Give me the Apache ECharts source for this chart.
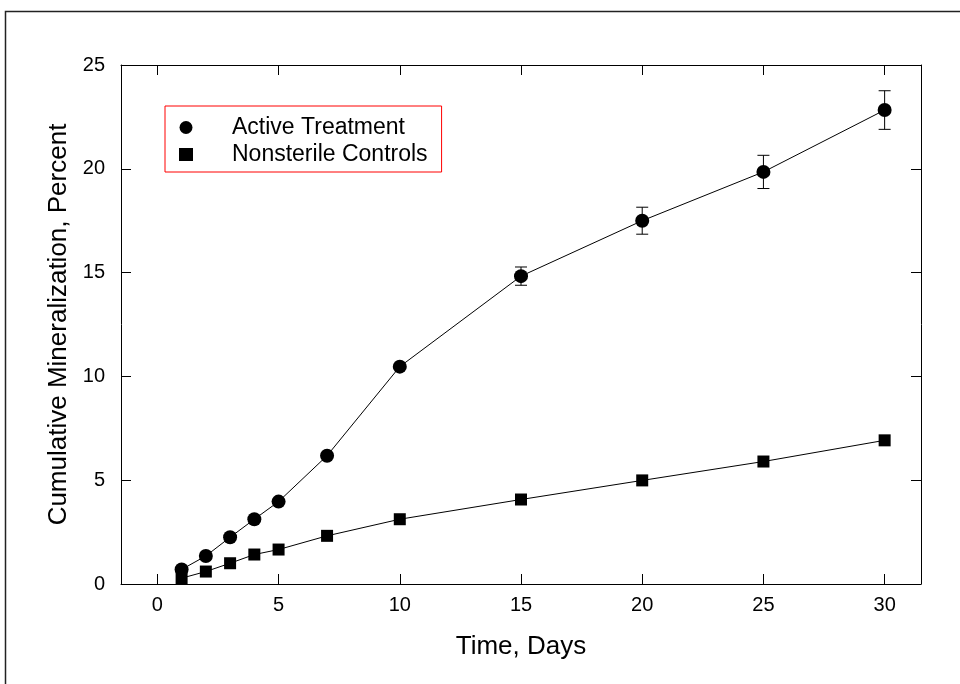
<!DOCTYPE html>
<html>
<head>
<meta charset="utf-8">
<script src="https://cdn.jsdelivr.net/npm/echarts@6/dist/echarts.min.js"></script>
<style>
  html, body { margin: 0; padding: 0; background: #fff; }
  #chart { width: 960px; height: 684px; }
</style>
</head>
<body>
<div id="chart"></div>
<script>
// days sampled
const days = [1, 2, 3, 4, 5, 7, 10, 15, 20, 25, 30];
// cumulative mineralization, percent
const activeTreatment = [0.7, 1.35, 2.25, 3.12, 3.97, 6.18, 10.47, 14.83, 17.5, 19.85, 22.83];
const nonsterileControls = [0.28, 0.6, 1.0, 1.42, 1.66, 2.32, 3.12, 4.07, 4.99, 5.9, 6.92];
// error bars (only the larger ones show past the markers)
const activeErrDays = [15, 20, 25, 30];
const activeErr = [0.44, 0.65, 0.8, 0.93];
const xTicks = [0, 5, 10, 15, 20, 25, 30];

const FONT = 'Liberation Sans, Arial, Helvetica, sans-serif';

const chart = echarts.init(document.getElementById('chart'));

const errData = activeErrDays.map((d, i) => {
  const y = activeTreatment[days.indexOf(d)];
  return [d, y - activeErr[i], y + activeErr[i]];
});

const xCommon = {
  type: 'value',
  min: -1.5,
  max: 31.5,
  splitLine: { show: false },
  axisLine: { show: true, onZero: false, lineStyle: { color: '#000', width: 1 } },
  axisTick: { show: true, inside: true, length: 10, customValues: xTicks, lineStyle: { color: '#000' } }
};
const yCommon = {
  type: 'value',
  min: 0,
  max: 25,
  interval: 5,
  splitLine: { show: false },
  axisLine: { show: true, onZero: false, lineStyle: { color: '#000', width: 1 } },
  axisTick: { show: true, inside: true, length: 10, lineStyle: { color: '#000' } }
};

chart.setOption({
  backgroundColor: '#fff',
  animation: false,
  textStyle: { fontFamily: FONT },
  graphic: [{
    type: 'rect',
    shape: { x: 5.5, y: 11.5, width: 1200, height: 1200 },
    style: { fill: 'none', stroke: '#222', lineWidth: 1.5 },
    silent: true
  }],
  grid: { left: 121, right: 39, top: 65, bottom: 100 },
  legend: {
    orient: 'vertical',
    left: 165,
    top: 106,
    padding: [10, 14, 6, 14],
    itemGap: 4,
    itemWidth: 14,
    itemHeight: 13,
    borderColor: '#f00',
    borderWidth: 1,
    backgroundColor: '#fff',
    textStyle: { fontFamily: FONT, fontSize: 23, color: '#000', padding: [0, 0, 0, 34] },
    data: [
      { name: 'Active Treatment', icon: 'circle', itemStyle: { color: '#000' } },
      { name: 'Nonsterile Controls', icon: 'rect', itemStyle: { color: '#000' } }
    ]
  },
  xAxis: [
    Object.assign({}, xCommon, {
      position: 'bottom',
      name: 'Time, Days',
      nameLocation: 'middle',
      nameGap: 50,
      nameTextStyle: { fontFamily: FONT, fontSize: 26, color: '#000' },
      axisLabel: { show: true, customValues: xTicks, margin: 11, fontFamily: FONT, fontSize: 20, color: '#000' }
    }),
    Object.assign({}, xCommon, { position: 'top', axisLabel: { show: false } })
  ],
  yAxis: [
    Object.assign({}, yCommon, {
      position: 'left',
      name: 'Cumulative Mineralization, Percent',
      nameLocation: 'middle',
      nameGap: 40,
      nameTextStyle: { fontFamily: FONT, fontSize: 26, color: '#000' },
      axisLabel: { show: true, margin: 16, fontFamily: FONT, fontSize: 20, color: '#000' }
    }),
    Object.assign({}, yCommon, { position: 'right', axisLabel: { show: false } })
  ],
  series: [
    {
      name: 'Active error',
      type: 'custom',
      xAxisIndex: 0,
      yAxisIndex: 0,
      z: 1,
      data: errData,
      renderItem: function (params, api) {
        const x = api.value(0);
        const lo = api.coord([x, api.value(1)]);
        const hi = api.coord([x, api.value(2)]);
        const cap = 6;
        const style = { stroke: '#000', lineWidth: 1 };
        return {
          type: 'group',
          children: [
            { type: 'line', shape: { x1: lo[0], y1: lo[1], x2: hi[0], y2: hi[1] }, style: style },
            { type: 'line', shape: { x1: lo[0] - cap, y1: lo[1], x2: lo[0] + cap, y2: lo[1] }, style: style },
            { type: 'line', shape: { x1: hi[0] - cap, y1: hi[1], x2: hi[0] + cap, y2: hi[1] }, style: style }
          ]
        };
      }
    },
    {
      name: 'Active Treatment',
      type: 'line',
      z: 3,
      data: days.map((d, i) => [d, activeTreatment[i]]),
      symbol: 'circle',
      symbolSize: 14,
      itemStyle: { color: '#000' },
      lineStyle: { color: '#000', width: 1 }
    },
    {
      name: 'Nonsterile Controls',
      type: 'line',
      z: 3,
      data: days.map((d, i) => [d, nonsterileControls[i]]),
      symbol: 'rect',
      symbolSize: 12,
      itemStyle: { color: '#000' },
      lineStyle: { color: '#000', width: 1 }
    }
  ]
});
</script>
</body>
</html>
